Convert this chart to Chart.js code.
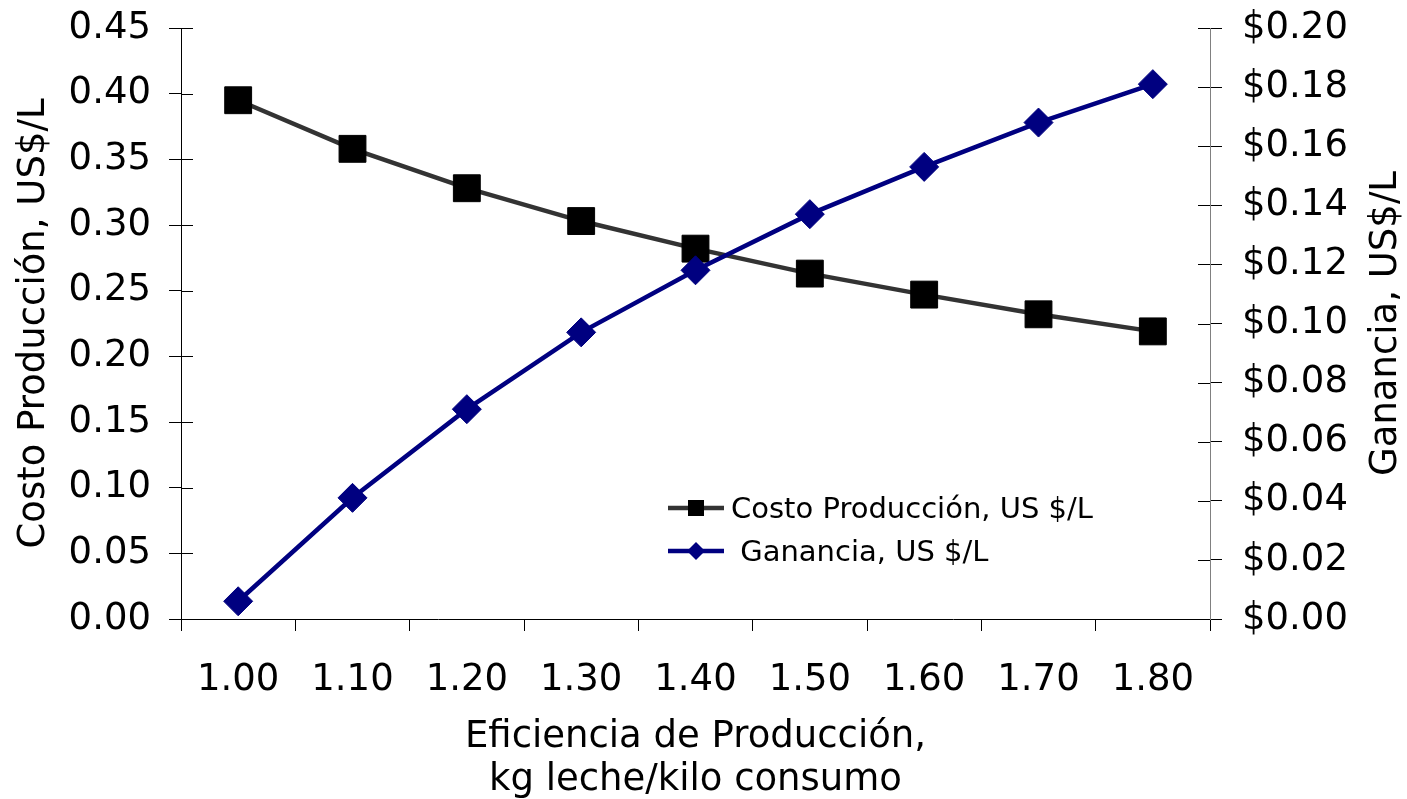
<!DOCTYPE html>
<html>
<head>
<meta charset="utf-8">
<script src="https://cdn.jsdelivr.net/npm/chart.js@4"></script>
<style>
  html, body { margin: 0; padding: 0; background: #fff; }
</style>
</head>
<body>
<canvas id="chart" width="1407" height="799"></canvas>
<script>
const categories = ['1.00', '1.10', '1.20', '1.30', '1.40', '1.50', '1.60', '1.70', '1.80'];
const costoProduccion = [0.395, 0.358, 0.328, 0.303, 0.282, 0.263, 0.247, 0.232, 0.219];
const ganancia = [0.006, 0.041, 0.071, 0.097, 0.118, 0.137, 0.153, 0.168, 0.181];
const costoLabel = 'Costo Producción, US $/L';
const gananciaLabel = ' Ganancia, US $/L';
const leftTitle = 'Costo Producción, US$/L';
const rightTitle = 'Ganancia, US$/L';
const xTitle = ['Eficiencia de Producción,', 'kg leche/kilo consumo'];

const FONT = "'DejaVu Sans', Verdana, sans-serif";

// ticks on the y axes cross the axis line, so draw the inner half too
const innerTicks = {
  id: 'innerTicks',
  afterDraw(chart) {
    const ctx = chart.ctx;
    ctx.save();
    ctx.strokeStyle = '#000';
    ctx.lineWidth = 1;
    const left = chart.scales.y;
    left.ticks.forEach(t => {
      const py = Math.round(left.getPixelForValue(t.value)) + 0.5;
      ctx.beginPath();
      ctx.moveTo(left.right, py);
      ctx.lineTo(left.right + 12, py);
      ctx.stroke();
    });
    const right = chart.scales.y1;
    right.ticks.forEach(t => {
      const py = Math.round(right.getPixelForValue(t.value)) + 0.5;
      ctx.beginPath();
      ctx.moveTo(right.left - 12, py);
      ctx.lineTo(right.left, py);
      ctx.stroke();
    });
    ctx.restore();
  }
};

// right title reads bottom to top, like the left one
const rightAxisTitle = {
  id: 'rightAxisTitle',
  afterDraw(chart) {
    const ctx = chart.ctx;
    const area = chart.chartArea;
    ctx.save();
    ctx.translate(1386, (area.top + area.bottom) / 2);
    ctx.rotate(-Math.PI / 2);
    ctx.font = '37px ' + FONT;
    ctx.fillStyle = '#000';
    ctx.textAlign = 'center';
    ctx.textBaseline = 'middle';
    ctx.fillText(rightTitle, 0, 0);
    ctx.restore();
  }
};

const insideLegend = {
  id: 'insideLegend',
  afterDraw(chart) {
    const ctx = chart.ctx;
    const rows = [
      { ds: chart.data.datasets[0], y: 508, size: 8 },
      { ds: chart.data.datasets[1], y: 551, size: 9 }
    ];
    ctx.save();
    rows.forEach(r => {
      ctx.strokeStyle = r.ds.borderColor;
      ctx.lineWidth = r.ds.borderWidth;
      ctx.beginPath();
      ctx.moveTo(668, r.y);
      ctx.lineTo(724, r.y);
      ctx.stroke();
      ctx.fillStyle = r.ds.pointBackgroundColor;
      ctx.beginPath();
      if (r.ds.pointStyle === 'rect') {
        ctx.rect(696 - r.size, r.y - r.size, r.size * 2, r.size * 2);
      } else {
        ctx.moveTo(696, r.y - r.size);
        ctx.lineTo(696 + r.size, r.y);
        ctx.lineTo(696, r.y + r.size);
        ctx.lineTo(696 - r.size, r.y);
        ctx.closePath();
      }
      ctx.fill();
      ctx.font = '29px ' + FONT;
      ctx.fillStyle = '#000';
      ctx.textAlign = 'left';
      ctx.textBaseline = 'middle';
      ctx.fillText(r.ds.label, 731, r.y + 2);
    });
    ctx.restore();
  }
};

const fixY = w => s => {
  s.width = w;
  s.paddingTop = 0;
  s.paddingBottom = 0;
};

new Chart(document.getElementById('chart'), {
  type: 'line',
  data: {
    labels: categories,
    datasets: [{
      label: costoLabel,
      data: costoProduccion,
      yAxisID: 'y',
      borderColor: '#333333',
      borderWidth: 4.5,
      pointStyle: 'rect',
      pointRadius: 19,
      pointBackgroundColor: '#000',
      pointBorderColor: '#000',
      pointBorderWidth: 1,
      order: 1
    }, {
      label: gananciaLabel,
      data: ganancia,
      yAxisID: 'y1',
      borderColor: '#000080',
      borderWidth: 4.5,
      pointStyle: 'rectRot',
      pointRadius: 14.5,
      pointBackgroundColor: '#000080',
      pointBorderColor: '#000080',
      pointBorderWidth: 1,
      order: 0
    }]
  },
  options: {
    responsive: false,
    animation: false,
    layout: { padding: { top: 28, left: 0, right: 0, bottom: 0 } },
    plugins: {
      legend: { display: false },
      tooltip: { enabled: false }
    },
    scales: {
      x: {
        offset: true,
        grid: { display: true, drawOnChartArea: false, offset: true, tickLength: 12, color: '#000' },
        border: { color: '#000', width: 1 },
        ticks: { color: '#000', font: { family: FONT, size: 37 }, padding: 27, maxRotation: 0 },
        title: { display: true, text: xTitle, color: '#000', font: { family: FONT, size: 37, lineHeight: 1.14 }, padding: { top: 0, bottom: -2 } },
        afterFit: s => { s.height = 180; s.paddingLeft = 0; s.paddingRight = 0; }
      },
      y: {
        position: 'left',
        min: 0,
        max: 0.45,
        grid: { display: true, drawOnChartArea: false, tickLength: 12, color: '#000' },
        border: { color: '#000', width: 1 },
        ticks: { stepSize: 0.05, color: '#000', font: { family: FONT, size: 37 }, padding: 18, callback: v => v.toFixed(2) },
        title: { display: true, text: leftTitle, color: '#000', font: { family: FONT, size: 37 }, padding: { top: 12, bottom: 0 } },
        afterFit: fixY(181)
      },
      y1: {
        position: 'right',
        min: 0,
        max: 0.2,
        grid: { display: true, drawOnChartArea: false, tickLength: 12, color: '#000' },
        border: { color: '#808080', width: 1 },
        ticks: { stepSize: 0.02, color: '#000', font: { family: FONT, size: 37 }, padding: 20, callback: v => '$' + v.toFixed(2) },
        afterFit: fixY(197)
      }
    }
  },
  plugins: [innerTicks, rightAxisTitle, insideLegend]
});
</script>
</body>
</html>
